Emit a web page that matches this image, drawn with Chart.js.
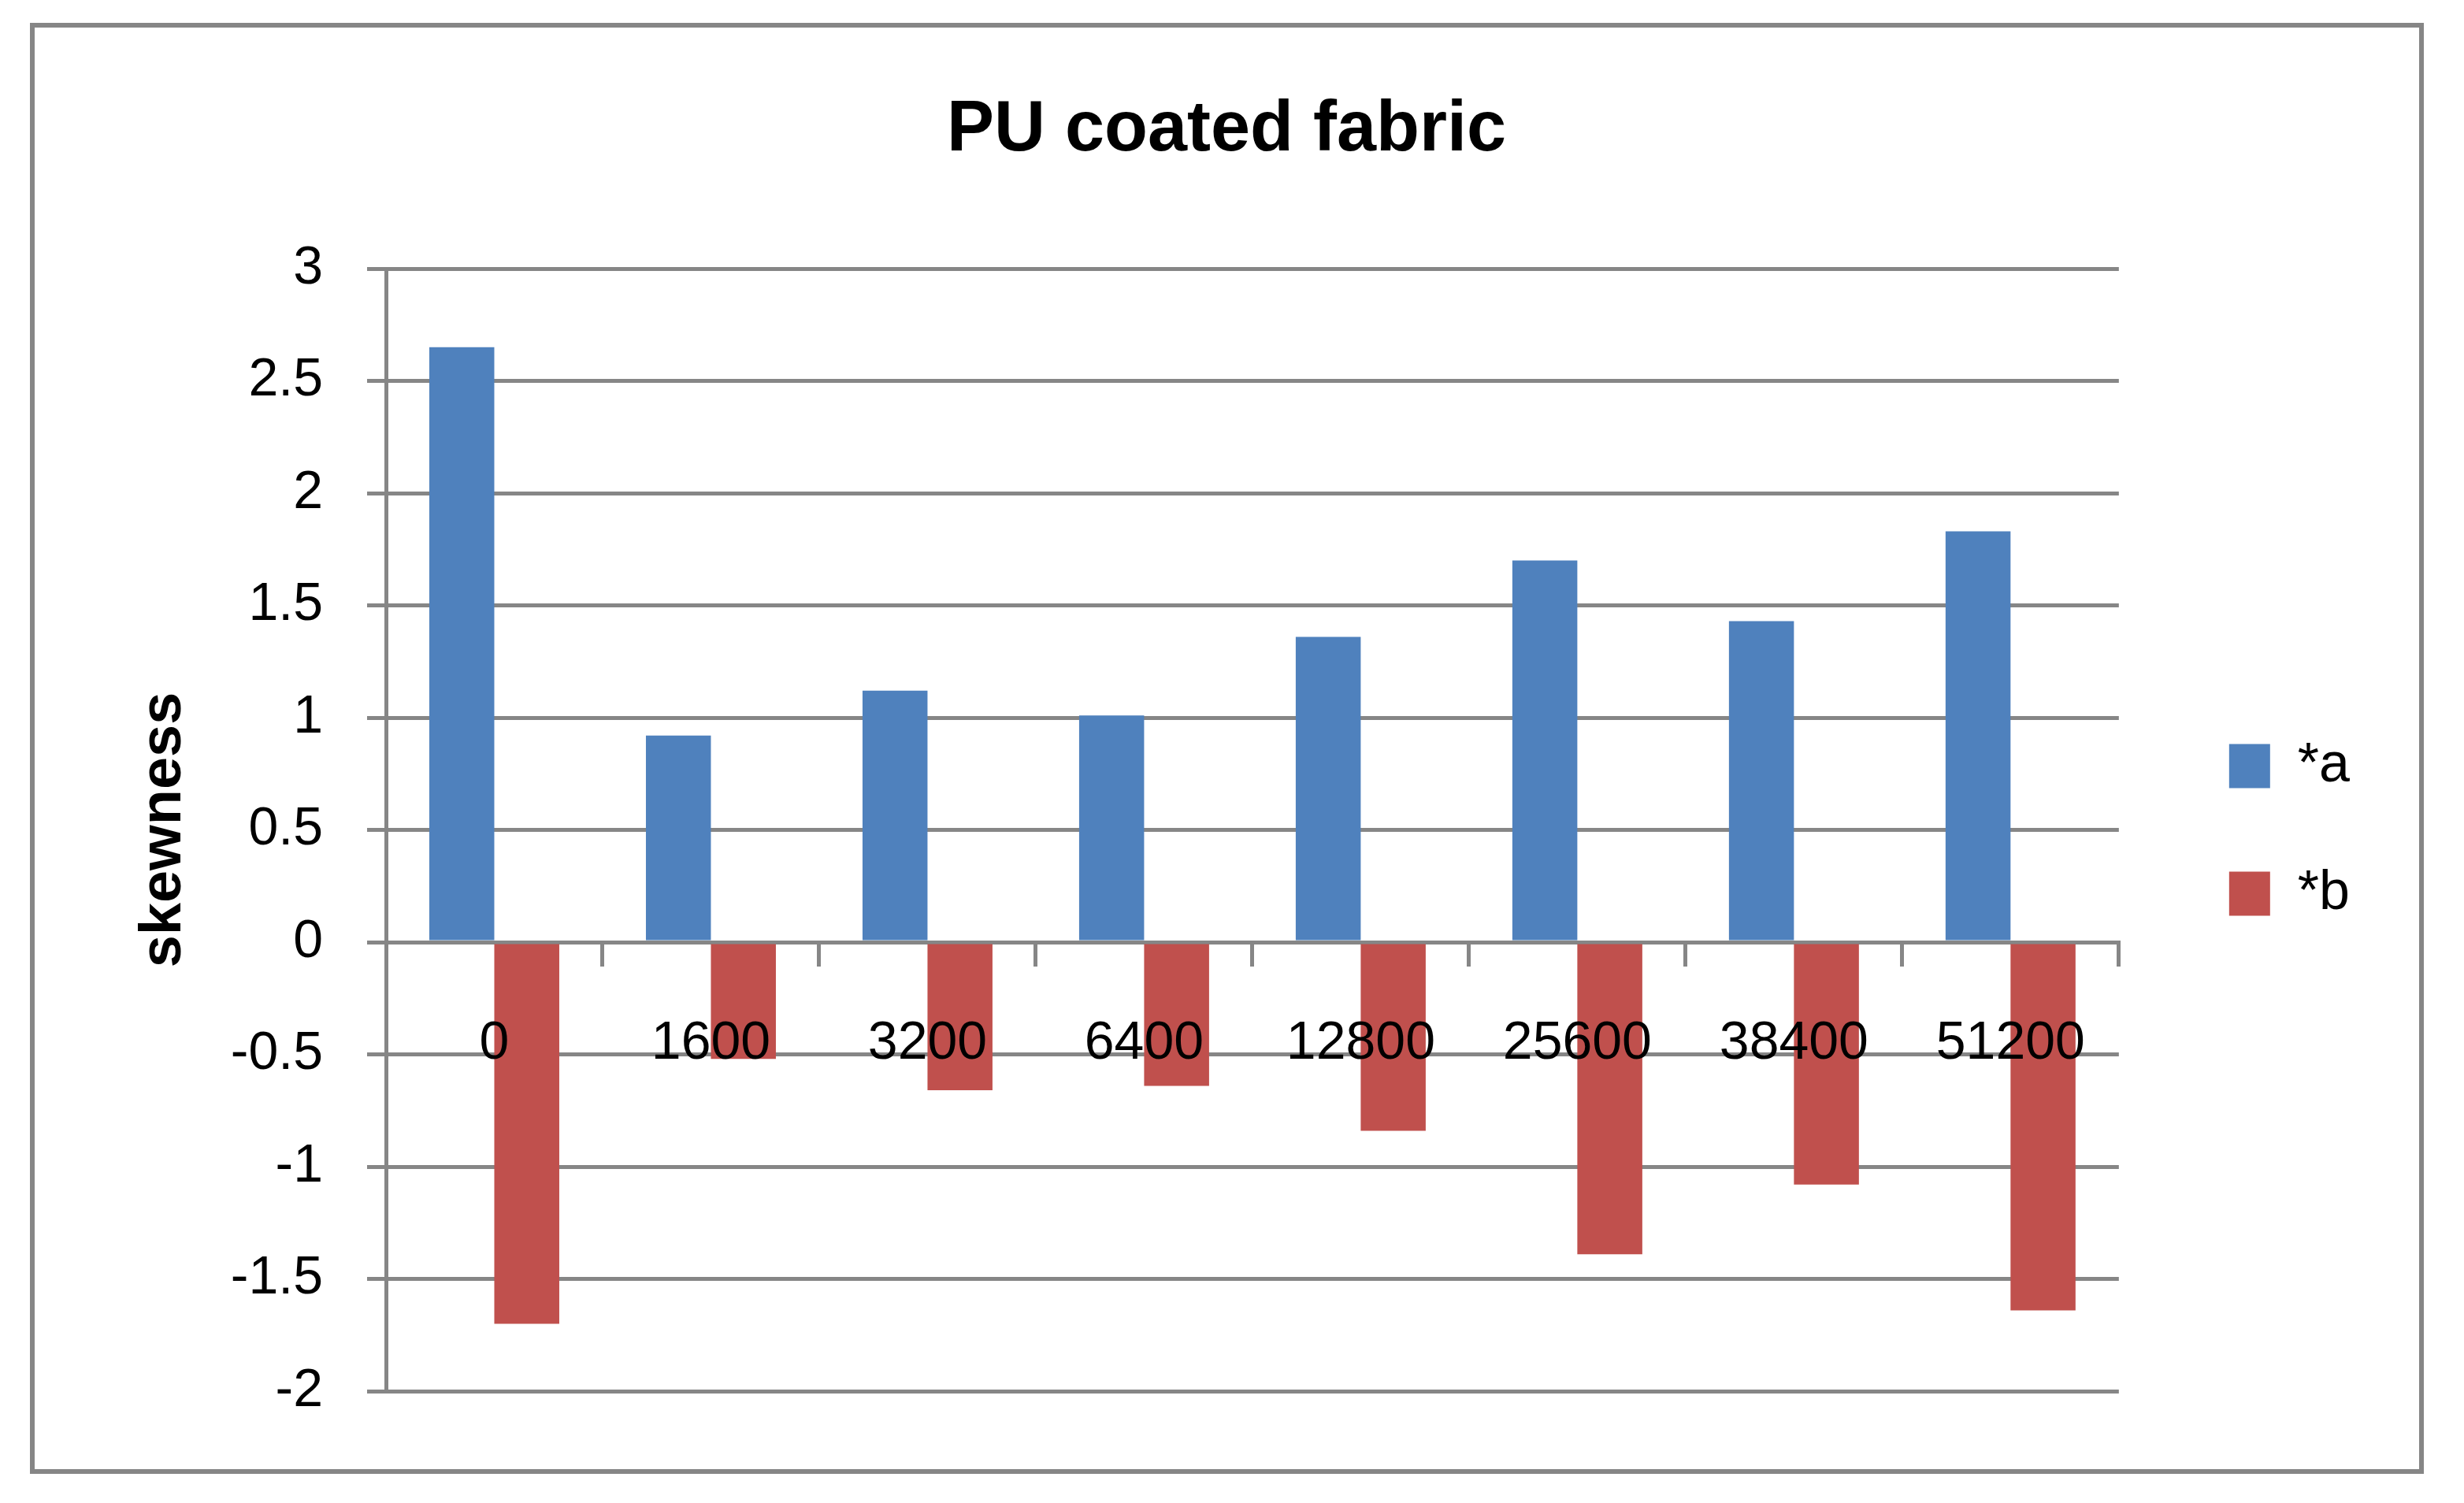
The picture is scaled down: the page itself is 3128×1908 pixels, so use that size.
<!DOCTYPE html>
<html>
<head>
<meta charset="utf-8">
<script src="https://cdn.jsdelivr.net/npm/chart.js@4.4.1/dist/chart.umd.min.js"></script>
<style>
  html, body { margin: 0; padding: 0; background: #fff; }
  #wrap { width: 3128px; height: 1908px; position: relative; }
</style>
</head>
<body>
<div id="wrap"><canvas id="chartSkew"></canvas></div>
<script>
// Datos
const categorias = ['0', '1600', '3200', '6400', '12800', '25600', '38400', '51200'];
const serieA = [2.65, 0.92, 1.12, 1.01, 1.36, 1.70, 1.43, 1.83];
const serieB = [-1.70, -0.52, -0.66, -0.64, -0.84, -1.39, -1.08, -1.64];
const ticksY = [-2, -1.5, -1, -0.5, 0, 0.5, 1, 1.5, 2, 2.5, 3];

const gris = '#868686';
const fuente = 'Liberation Sans, Arial, sans-serif';

Chart.defaults.color = '#000';
Chart.defaults.font.family = fuente;

// Marco exterior del gráfico
const marco = {
  id: 'marco',
  beforeDraw(chart) {
    const ctx = chart.ctx;
    ctx.save();
    ctx.fillStyle = '#fff';
    ctx.fillRect(0, 0, chart.width, chart.height);
    ctx.strokeStyle = gris;
    ctx.lineWidth = 6;
    ctx.strokeRect(41, 32, 3033, 1836);
    ctx.restore();
  }
};

new Chart(document.getElementById('chartSkew'), {
  type: 'bar',
  data: {
    labels: categorias,
    datasets: [
      { label: '*a', data: serieA, backgroundColor: '#4F81BD', borderWidth: 0 },
      { label: '*b', data: serieB, backgroundColor: '#C0504D', borderWidth: 0 }
    ]
  },
  options: {
    responsive: true,
    maintainAspectRatio: false,
    devicePixelRatio: 1,
    animation: false,
    categoryPercentage: 0.6,
    barPercentage: 1,
    layout: { padding: { left: 121, right: 135, top: 60, bottom: 142 } },
    plugins: {
      title: {
        display: true,
        text: 'PU coated fabric',
        font: { size: 90, weight: 'bold' },
        padding: { top: 52, bottom: 121 }
      },
      legend: {
        position: 'right',
        fullSize: false,
        labels: {
          boxWidth: 52,
          boxHeight: 56,
          padding: 92,
          font: { size: 70 }
        }
      },
      tooltip: { enabled: false }
    },
    scales: {
      x: {
        position: { y: 0 },
        offset: true,
        grid: {
          display: true,
          drawOnChartArea: false,
          offset: true,
          color: gris,
          lineWidth: 5,
          tickLength: 28
        },
        border: { display: true, color: gris, width: 5 },
        ticks: {
          z: 1,
          padding: 60,
          maxRotation: 0,
          autoSkip: false,
          font: { size: 68 }
        }
      },
      y: {
        min: -2,
        max: 3,
        afterFit: s => { s.width = 369; },
        afterBuildTicks: s => { s.ticks = ticksY.map(v => ({ value: v })); },
        grid: { color: gris, lineWidth: 5, tickLength: 24 },
        border: { display: true, color: gris, width: 5 },
        ticks: {
          padding: 56,
          font: { size: 68 },
          callback: v => String(v)
        },
        title: {
          display: true,
          text: 'skewness',
          font: { size: 74, weight: 'bold' },
          padding: { top: 43, bottom: 0 }
        }
      },
      hueco: {
        type: 'linear',
        position: 'right',
        display: true,
        grid: { display: false },
        border: { display: false },
        ticks: { display: false },
        afterFit: s => { s.width = 48; }
      }
    }
  },
  plugins: [marco]
});
</script>
</body>
</html>
